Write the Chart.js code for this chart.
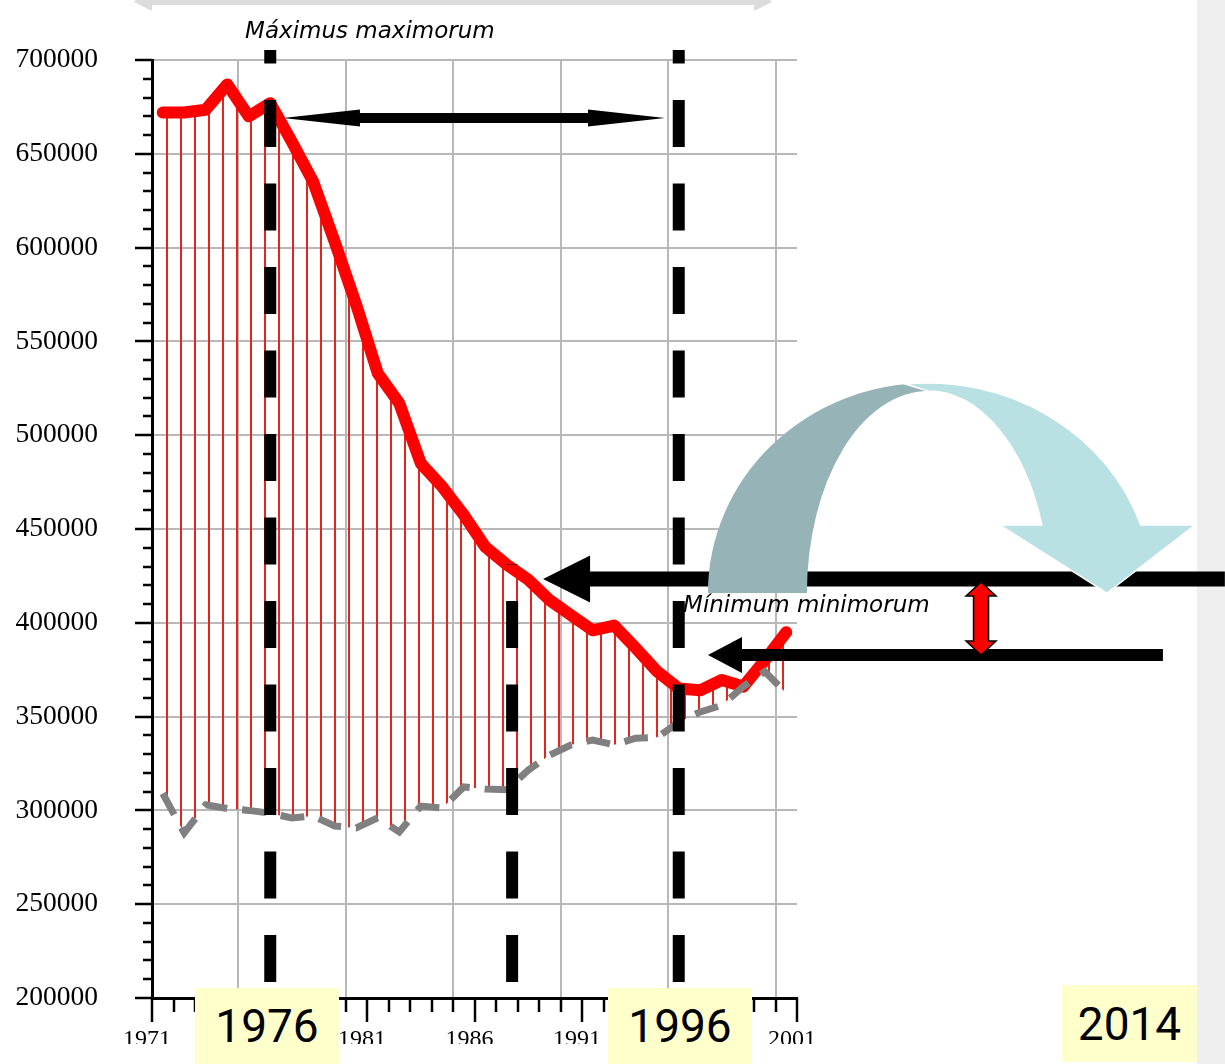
<!DOCTYPE html>
<html>
<head>
<meta charset="utf-8">
<title>Máximus maximorum / Mínimum minimorum</title>
<script src="https://cdn.jsdelivr.net/npm/chart.js@4.4.1/dist/chart.umd.min.js"></script>
<style>
  body { margin: 0; background: #fff; }
  #wrap { position: relative; width: 1225px; height: 1064px; overflow: hidden; }
  #strip { position: absolute; left: 1197px; top: 0; width: 28px; height: 1064px; background: #efefef; }
  #box { position: absolute; left: 0; top: 0; width: 1225px; height: 1044px; }
  .yr { position: absolute; background: #ffffcc; color: #000; font-family: Roboto, "Liberation Sans", sans-serif;
        font-size: 46px; display: flex; align-items: center; justify-content: center; }
</style>
</head>
<body>
<div id="wrap">
  <div id="strip"></div>
  <div id="box"><canvas id="chart"></canvas></div>
  <div class="yr" style="left:195px;top:988px;width:144px;height:76px;">1976</div>
  <div class="yr" style="left:608px;top:988px;width:144px;height:76px;">1996</div>
  <div class="yr" style="left:1062px;top:985px;width:135px;height:77px;">2014</div>
</div>
<script>
// Años y series
const years = [1971, 1972, 1973, 1974, 1975, 1976, 1977, 1978, 1979, 1980,
               1981, 1982, 1983, 1984, 1985, 1986, 1987, 1988, 1989, 1990,
               1991, 1992, 1993, 1994, 1995, 1996, 1997, 1998, 1999, 2000];
const births = [672000, 672000, 673500, 687000, 670000, 677000, 656500, 635000, 603000, 569500,
                533000, 517000, 485000, 472500, 457500, 440500, 431000, 423000, 412000, 404000,
                396000, 398500, 386500, 374000, 365000, 364000, 369500, 366000, 380000, 395000];
const deaths = [309000, 288000, 303000, 301000, 300000, 298500, 296000, 297000, 291700, 290600,
                296000, 288500, 302300, 301300, 312500, 311400, 311000, 321500, 329500, 335000,
                337500, 335000, 338500, 339000, 347000, 352500, 356000, 366000, 374000, 362500];

const xMin = 1971, xMax = 2001;
const yMin = 200000, yMax = 700000;

// Líneas verticales discontinuas (año, valor superior)
const markerYears = [1976.5, 1987.75, 1995.5];
const markerTops = [705300, 431300, 705300];

// Rayado rojo entre las dos curvas
const hatch = (() => {
    const c = document.createElement('canvas');
    c.width = 14; c.height = 4;
    const g = c.getContext('2d');
    g.fillStyle = '#e2261c';
    g.fillRect(12, 0, 2, 4);
    return g.createPattern(c, 'repeat');
})();

function arrowLeft(ctx, tip, yc, tail, shaftHalf, headLen, headHalf) {
    ctx.beginPath();
    ctx.moveTo(tip, yc);
    ctx.lineTo(tip + headLen, yc - headHalf);
    ctx.lineTo(tip + headLen, yc - shaftHalf);
    ctx.lineTo(tail, yc - shaftHalf);
    ctx.lineTo(tail, yc + shaftHalf);
    ctx.lineTo(tip + headLen, yc + shaftHalf);
    ctx.lineTo(tip + headLen, yc + headHalf);
    ctx.closePath();
    ctx.fill();
}

const decor = {
    id: 'decor',
    afterDatasetsDraw(chart) {
        const { ctx, chartArea, scales: { x, y } } = chart;
        ctx.save();

        // marcas de los ejes
        ctx.strokeStyle = '#000';
        ctx.lineWidth = 2.5;
        for (let v = yMin; v <= yMax; v += 10000) {
            const py = Math.round(y.getPixelForValue(v));
            const len = v % 50000 === 0 ? 17 : 9;
            ctx.beginPath();
            ctx.moveTo(chartArea.left, py);
            ctx.lineTo(chartArea.left - len, py);
            ctx.stroke();
        }
        for (let yr = xMin; yr <= xMax; yr++) {
            const px = Math.round(x.getPixelForValue(yr));
            const len = (yr - xMin) % 5 === 0 ? 24 : 14;
            ctx.beginPath();
            ctx.moveTo(px, chartArea.bottom);
            ctx.lineTo(px, chartArea.bottom + len);
            ctx.stroke();
        }

        // líneas verticales discontinuas
        ctx.strokeStyle = '#000';
        ctx.lineWidth = 12;
        ctx.setLineDash([47, 36.5]);
        markerYears.forEach((yr, i) => {
            const px = x.getPixelForValue(yr);
            const top = y.getPixelForValue(markerTops[i]);
            ctx.lineDashOffset = (((top - chartArea.top - 40) % 83.5) + 83.5) % 83.5;
            ctx.beginPath();
            ctx.moveTo(px, top);
            ctx.lineTo(px, chartArea.bottom);
            ctx.stroke();
        });
        ctx.setLineDash([]);

        // flecha gris superior
        ctx.fillStyle = '#dcdcdc';
        ctx.beginPath();
        [[134, 2], [152, -16], [152, -10], [754, -10], [754, -16], [772, 2], [754, 11], [754, 5], [152, 5], [152, 11]]
            .forEach(([px, py], i) => i ? ctx.lineTo(px, py) : ctx.moveTo(px, py));
        ctx.closePath();
        ctx.fill();

        // flecha doble "máximus"
        ctx.fillStyle = '#000';
        const ty = y.getPixelForValue(669100);
        const l = x.getPixelForValue(1977.09), r = x.getPixelForValue(1994.86);
        ctx.beginPath();
        ctx.moveTo(l, ty);
        ctx.lineTo(l + 77, ty - 8.5);
        ctx.lineTo(l + 77, ty - 5);
        ctx.lineTo(r - 77, ty - 5);
        ctx.lineTo(r - 77, ty - 8.5);
        ctx.lineTo(r, ty);
        ctx.lineTo(r - 77, ty + 8.5);
        ctx.lineTo(r - 77, ty + 5);
        ctx.lineTo(l + 77, ty + 5);
        ctx.lineTo(l + 77, ty + 8.5);
        ctx.closePath();
        ctx.fill();

        // flechas negras horizontales
        arrowLeft(ctx, x.getPixelForValue(1989.19), y.getPixelForValue(423350), x.getPixelForValue(2020.9), 7.5, 47, 23.5);
        arrowLeft(ctx, x.getPixelForValue(1996.86), y.getPixelForValue(382830), x.getPixelForValue(2018.02), 6, 34, 18);

        // flecha curva
        const cx = x.getPixelForValue(2007.09), cy = y.getPixelForValue(415880);
        ctx.strokeStyle = '#fff';
        ctx.lineWidth = 1.5;
        ctx.fillStyle = '#96b3b7';
        ctx.beginPath();
        ctx.moveTo(cx - 220, cy);
        ctx.ellipse(cx, cy, 220, 210, 0, Math.PI, Math.PI * 1.5);
        ctx.lineTo(cx, cy - 202);
        ctx.ellipse(cx, cy, 121, 202, 0, Math.PI * 1.5, Math.PI, true);
        ctx.closePath();
        ctx.fill();
        const ao = Math.asin(68 / 210), ai = Math.asin(68 / 202);
        ctx.fillStyle = '#b9e0e3';
        ctx.beginPath();
        ctx.ellipse(cx, cy, 225, 210, 0, Math.PI * 1.5 - 0.1, Math.PI * 2 - ao);
        ctx.lineTo(cx + 267, cy - 68);
        ctx.lineTo(cx + 179, cy);
        ctx.lineTo(cx + 72, cy - 68);
        ctx.lineTo(cx + 121 * Math.cos(ai), cy - 68);
        ctx.ellipse(cx, cy, 121, 202, 0, Math.PI * 2 - ai, Math.PI * 1.5, true);
        ctx.closePath();
        ctx.fill();
        ctx.stroke();

        // flecha roja doble vertical
        const rx = x.getPixelForValue(2009.56);
        const t = y.getPixelForValue(421750), b = y.getPixelForValue(382830);
        ctx.fillStyle = '#ff0000';
        ctx.strokeStyle = '#000';
        ctx.lineWidth = 1.5;
        ctx.beginPath();
        ctx.moveTo(rx, t);
        ctx.lineTo(rx + 15, t + 14);
        ctx.lineTo(rx + 7.5, t + 14);
        ctx.lineTo(rx + 7.5, b - 14);
        ctx.lineTo(rx + 15, b - 14);
        ctx.lineTo(rx, b);
        ctx.lineTo(rx - 15, b - 14);
        ctx.lineTo(rx - 7.5, b - 14);
        ctx.lineTo(rx - 7.5, t + 14);
        ctx.lineTo(rx - 15, t + 14);
        ctx.closePath();
        ctx.fill();
        ctx.stroke();

        // textos
        ctx.fillStyle = '#000';
        ctx.font = 'italic 23px "DejaVu Sans"';
        ctx.textBaseline = 'middle';
        ctx.textAlign = 'left';
        ctx.fillText('Máximus maximorum', x.getPixelForValue(1975.33), y.getPixelForValue(714900));
        ctx.fillText('Mínimum minimorum', x.getPixelForValue(1995.70), y.getPixelForValue(408950));

        ctx.restore();
    }
};

const ctx = document.getElementById('chart').getContext('2d');
const chart = new Chart(ctx, {
    type: 'line',
    data: {
        datasets: [
            {
                label: 'Nacimientos',
                data: years.map((yr, i) => ({ x: yr + 0.5, y: births[i] })),
                borderColor: '#ff0000',
                borderWidth: 12,
                borderCapStyle: 'round',
                borderJoinStyle: 'round',
                backgroundColor: hatch,
                fill: 1,
                pointRadius: 0,
                tension: 0,
                order: 1
            },
            {
                label: 'Defunciones',
                data: years.map((yr, i) => ({ x: yr + 0.5, y: deaths[i] })),
                borderColor: '#808080',
                borderWidth: 7,
                borderDash: [24, 15],
                fill: false,
                pointRadius: 0,
                tension: 0,
                order: 0
            }
        ]
    },
    options: {
        responsive: true,
        maintainAspectRatio: false,
        animation: false,
        layout: { padding: { top: 60, right: 428, left: 0, bottom: 0 } },
        plugins: {
            legend: { display: false },
            tooltip: { enabled: false }
        },
        scales: {
            x: {
                type: 'linear',
                min: xMin,
                max: xMax,
                afterFit: (s) => { s.height = 46; s.paddingLeft = 0; s.paddingRight = 0; },
                grid: {
                    color: (c) => (c.tick && c.tick.value % 5 === 0) ? '#b8b8b8' : 'rgba(0,0,0,0)',
                    lineWidth: 2,
                    drawTicks: false
                },
                border: { color: '#000', width: 3 },
                ticks: {
                    stepSize: 1,
                    maxTicksLimit: 100,
                    autoSkip: false,
                    maxRotation: 0,
                    padding: 27,
                    labelOffset: -5,
                    color: '#000',
                    font: { family: '"Liberation Serif", "Times New Roman", serif', size: 24 },
                    callback: (v) => (v - xMin) % 5 === 0 ? String(v) : ''
                }
            },
            y: {
                min: yMin,
                max: yMax,
                afterFit: (s) => { s.width = 152; s.paddingTop = 0; s.paddingBottom = 0; },
                grid: {
                    color: (c) => (c.tick && c.tick.value % 50000 === 0) ? '#b8b8b8' : 'rgba(0,0,0,0)',
                    lineWidth: 2,
                    drawTicks: false
                },
                border: { color: '#000', width: 3 },
                ticks: {
                    stepSize: 10000,
                    maxTicksLimit: 100,
                    autoSkip: false,
                    padding: 54,
                    color: '#000',
                    font: { family: '"Liberation Serif", "Times New Roman", serif', size: 27.5 },
                    callback: (v) => v % 50000 === 0 ? String(v) : ''
                }
            }
        }
    },
    plugins: [decor]
});
</script>
</body>
</html>
